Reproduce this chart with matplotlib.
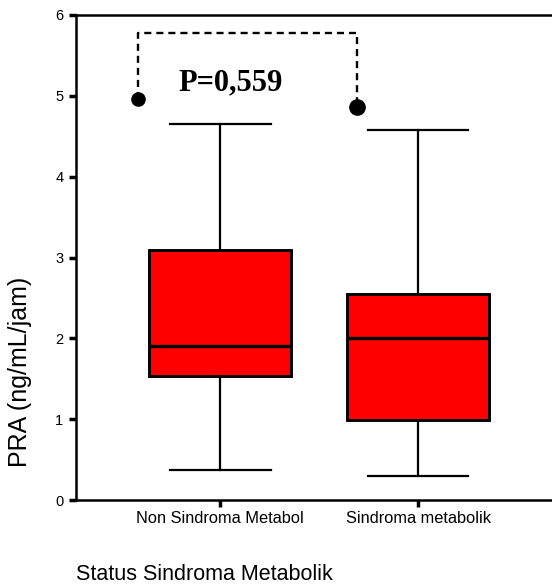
import matplotlib
matplotlib.use('Agg')
import matplotlib.pyplot as plt

plt.rcParams['font.family'] = ['Liberation Sans', 'DejaVu Sans']

kelompok = ['Non Sindroma Metabol', 'Sindroma metabolik']
whisker_bawah = [0.37, 0.30]
q1 = [1.53, 0.99]
median = [1.91, 2.00]
q3 = [3.09, 2.55]
whisker_atas = [4.65, 4.58]
outlier_x = [0.585, 1.69]
outlier_y = [4.96, 4.86]
p_teks = 'P=0,559'

stats = []
for i in range(len(kelompok)):
    stats.append({'whislo': whisker_bawah[i], 'q1': q1[i], 'med': median[i],
                  'q3': q3[i], 'whishi': whisker_atas[i], 'fliers': []})

fig = plt.figure(figsize=(5.52, 5.85), dpi=100)
ax = fig.add_axes([76 / 552, 85 / 585, 520 / 552, 485 / 585])

ax.bxp(stats, positions=[1, 2], widths=0.717, patch_artist=True, capwidths=0.51,
       boxprops=dict(facecolor='#ff0000', edgecolor='black', linewidth=2.1),
       medianprops=dict(color='black', linewidth=2.4),
       whiskerprops=dict(color='black', linewidth=1.6),
       capprops=dict(color='black', linewidth=1.6),
       showfliers=False)

# titik outlier + garis putus-putus
ax.plot(outlier_x[0], outlier_y[0], 'o', color='black', markersize=9.5)
ax.plot(outlier_x[1], outlier_y[1], 'o', color='black', markersize=11)
y_braket = 5.78
ax.plot([outlier_x[0], outlier_x[0], outlier_x[1], outlier_x[1]],
        [outlier_y[0], y_braket, y_braket, outlier_y[1]],
        color='black', linewidth=1.7, linestyle=(0, (3, 2.1)))
ax.text(1.05, 5.16, p_teks, ha='center', va='center', fontsize=22,
        fontweight='bold', family='Liberation Serif')

ax.set_xlim(0.27, 2.9)
ax.set_ylim(0, 6)
ax.set_xticks([1, 2])
ax.set_xticklabels(kelompok, fontsize=11.8)
ax.set_yticks(range(7))
ax.tick_params(axis='y', labelsize=10.5, length=5, width=2.5, direction='out', pad=4)
ax.tick_params(axis='x', length=5, width=2.5, direction='out', pad=3)
for s in ['left', 'bottom', 'top']:
    ax.spines[s].set_linewidth(1.8)
ax.spines['right'].set_visible(False)

fig.text(20 / 552, 1 - 372 / 585, 'PRA (ng/mL/jam)', rotation=90,
         ha='center', va='center', fontsize=18)
fig.text(76 / 552, 1 - 574 / 585, 'Status Sindroma Metabolik',
         ha='left', va='center', fontsize=15.5)

fig.savefig('out.png', dpi=100)
